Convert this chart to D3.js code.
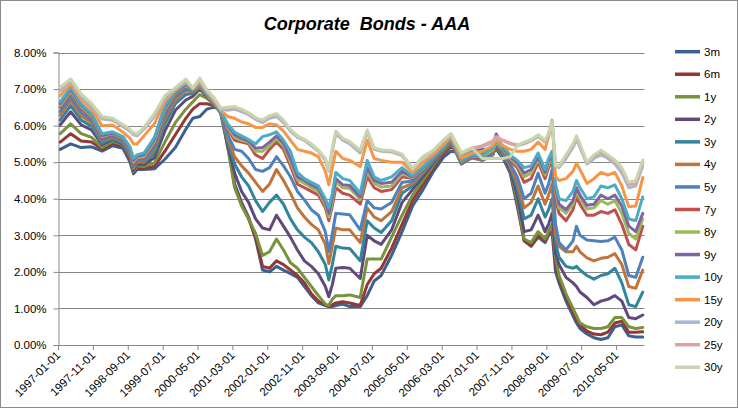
<!DOCTYPE html>
<html><head><meta charset="utf-8">
<script src="https://cdn.jsdelivr.net/npm/d3@7"></script>
<style>
body{margin:0;background:#fff}
svg{display:block}
text{font-family:"Liberation Sans",Arial,sans-serif;fill:#000}
</style>
</head><body>
<svg id="c" width="738" height="408"></svg>
<script>
const sampleDates = [
"1997-01-01","1997-04-01","1997-07-01","1997-10-01","1998-01-01","1998-04-01","1998-07-01","1998-09-01","1998-10-01","1998-11-01",
"1999-01-01","1999-04-01","1999-07-01","1999-10-01","2000-01-01","2000-03-01","2000-05-01","2000-07-01","2000-09-01","2000-11-01",
"2001-01-01","2001-03-01","2001-05-01","2001-07-01","2001-09-01","2001-11-01","2002-01-01","2002-03-01","2002-05-01","2002-07-01",
"2002-09-01","2002-11-01","2003-01-01","2003-03-01","2003-05-01","2003-06-01","2003-07-01","2003-08-01","2003-10-01","2003-12-01",
"2004-03-01","2004-05-01","2004-07-01","2004-09-01","2004-12-01","2005-03-01","2005-06-01","2005-09-01","2005-12-01","2006-03-01",
"2006-05-01","2006-08-01","2006-11-01","2007-02-01","2007-05-01","2007-06-01","2007-08-01","2007-10-01","2007-12-01","2008-02-01",
"2008-04-01","2008-06-01","2008-08-01","2008-09-01","2008-10-01","2008-11-01","2008-12-01","2009-02-01","2009-04-01","2009-05-01",
"2009-06-01","2009-08-01","2009-10-01","2009-12-01","2010-02-01","2010-04-01","2010-06-01","2010-08-01","2010-10-01","2010-12-01"];

const seriesNames = ["3m","6m","1y","2y","3y","4y","5y","7y","8y","9y","10y","15y","20y","25y","30y"];

const s3m = [5.35,5.5,5.4,5.42,5.3,5.45,5.38,5.0,4.68,4.8,
4.8,4.82,5.08,5.4,5.9,6.2,6.25,6.45,6.5,6.45,
5.6,4.4,3.9,3.5,2.9,2.05,2.0,2.15,2.05,1.95,
1.85,1.6,1.35,1.15,1.08,1.05,1.05,1.08,1.12,1.05,
1.05,1.35,1.75,1.9,2.45,3.1,3.8,4.25,4.75,5.15,
5.3,5.25,5.35,5.35,5.3,5.35,5.1,4.7,3.8,2.85,
2.7,2.95,2.8,3.0,3.1,2.0,1.7,1.2,0.8,0.6,
0.45,0.3,0.2,0.15,0.2,0.5,0.55,0.25,0.22,0.22];
const s6m = [5.55,5.78,5.58,5.55,5.35,5.52,5.45,5.1,4.72,4.85,
4.85,4.88,5.3,5.75,6.2,6.45,6.6,6.6,6.55,6.42,
5.5,4.35,3.85,3.45,2.95,2.15,2.1,2.3,2.2,2.05,
1.9,1.7,1.4,1.2,1.1,1.05,1.1,1.15,1.18,1.15,
1.08,1.65,1.95,2.1,2.65,3.3,3.95,4.4,4.85,5.25,
5.42,5.22,5.3,5.3,5.3,5.38,5.15,4.75,3.9,2.85,
2.72,3.0,2.85,3.05,3.2,2.2,1.8,1.3,0.9,0.7,
0.55,0.38,0.3,0.28,0.35,0.6,0.65,0.35,0.35,0.36];
const s1y = [5.78,6.05,5.78,5.68,5.4,5.57,5.48,5.15,4.75,4.9,
4.88,4.98,5.55,6.08,6.45,6.65,6.85,6.75,6.58,6.38,
5.4,4.3,3.8,3.45,3.05,2.45,2.55,2.9,2.6,2.25,
2.1,1.85,1.6,1.35,1.12,1.08,1.25,1.35,1.35,1.37,
1.3,2.35,2.35,2.35,2.95,3.55,4.1,4.5,4.92,5.3,
5.5,5.15,5.25,5.25,5.28,5.4,5.15,4.78,3.95,2.9,
2.8,3.1,2.9,3.1,3.3,2.4,1.9,1.4,1.0,0.8,
0.6,0.5,0.45,0.45,0.5,0.75,0.75,0.5,0.45,0.48];
const s2y = [6.02,6.38,6.02,5.88,5.48,5.62,5.5,5.2,4.78,4.95,
4.93,5.12,5.85,6.42,6.7,6.8,7.0,6.8,6.6,6.35,
5.45,4.7,4.2,3.9,3.45,3.2,3.15,3.55,3.25,2.95,
2.6,2.3,2.15,1.95,1.6,1.32,1.65,2.1,2.12,2.1,
1.82,3.0,2.85,2.75,3.15,3.9,4.25,4.6,4.98,5.32,
5.55,5.0,5.15,5.1,5.2,5.45,5.2,4.8,4.1,3.1,
3.15,3.55,3.1,3.3,3.6,2.5,2.2,1.85,1.7,1.6,
1.45,1.3,1.1,1.2,1.25,1.35,1.2,0.75,0.72,0.82];
const s3y = [6.15,6.55,6.15,5.98,5.52,5.65,5.52,5.22,4.82,5.0,
4.98,5.25,6.05,6.6,6.85,6.88,7.05,6.82,6.6,6.35,
5.55,4.95,4.6,4.35,3.95,3.65,3.9,4.1,3.85,3.45,
3.15,2.95,2.8,2.55,2.2,1.78,2.2,2.7,2.65,2.64,
2.3,3.4,3.2,3.08,3.4,4.15,4.35,4.68,5.02,5.34,
5.57,4.95,5.12,5.05,5.2,5.48,5.22,4.85,4.3,3.45,
3.55,4.0,3.5,3.7,4.0,2.8,2.4,2.15,2.1,2.15,
2.05,1.9,1.8,1.9,1.95,2.1,1.7,1.1,1.05,1.45];
const s4y = [6.28,6.68,6.27,6.07,5.57,5.68,5.55,5.25,4.85,5.02,
5.02,5.35,6.18,6.7,6.95,6.92,7.08,6.83,6.6,6.35,
5.65,5.15,4.9,4.7,4.45,4.2,4.4,4.8,4.5,4.15,
3.75,3.5,3.3,3.15,2.75,2.23,2.7,3.2,3.15,3.15,
2.8,3.75,3.5,3.4,3.65,4.3,4.42,4.72,5.05,5.35,
5.58,4.95,5.12,5.05,5.22,5.5,5.25,4.9,4.45,3.75,
3.9,4.35,3.85,4.1,4.4,3.0,2.7,2.55,2.55,2.7,
2.55,2.38,2.3,2.37,2.4,2.5,2.2,1.6,1.55,2.05];
const s5y = [6.38,6.78,6.37,6.13,5.6,5.7,5.57,5.28,4.88,5.05,
5.06,5.42,6.28,6.78,7.0,6.95,7.1,6.84,6.62,6.36,
5.75,5.35,5.3,5.1,4.8,4.75,4.85,5.15,4.9,4.6,
4.2,3.97,3.7,3.55,3.1,2.55,3.05,3.6,3.58,3.56,
3.15,3.95,3.75,3.72,3.9,4.45,4.48,4.76,5.07,5.36,
5.6,4.97,5.13,5.07,5.25,5.52,5.28,4.95,4.6,4.0,
4.15,4.7,4.15,4.4,4.8,3.3,2.8,2.6,2.85,3.25,
3.0,2.87,2.85,2.83,2.85,2.95,2.6,1.9,1.85,2.4];
const s7y = [6.5,6.9,6.47,6.22,5.67,5.75,5.62,5.33,4.95,5.1,
5.12,5.52,6.4,6.85,7.08,6.98,7.12,6.85,6.63,6.37,
5.9,5.6,5.55,5.5,5.2,5.1,5.35,5.55,5.35,4.9,
4.4,4.3,4.2,4.1,3.75,3.4,3.8,4.3,4.15,4.1,
3.85,4.6,4.3,4.2,4.25,4.6,4.55,4.8,5.1,5.38,
5.62,5.0,5.15,5.12,5.3,5.55,5.32,5.05,4.85,4.45,
4.55,5.0,4.55,4.85,5.0,4.0,3.6,3.4,3.7,4.05,
3.85,3.55,3.55,3.65,3.6,3.7,3.3,2.75,2.6,3.25];
const s8y = [6.55,6.95,6.52,6.26,5.7,5.78,5.65,5.36,5.0,5.13,
5.15,5.56,6.45,6.88,7.1,6.98,7.12,6.86,6.64,6.38,
5.95,5.68,5.6,5.55,5.3,5.3,5.45,5.65,5.45,5.0,
4.52,4.42,4.3,4.2,3.85,3.5,3.9,4.45,4.3,4.28,
3.98,4.75,4.42,4.32,4.35,4.68,4.58,4.82,5.12,5.4,
5.63,5.02,5.17,5.14,5.33,5.56,5.35,5.1,4.92,4.6,
4.7,5.08,4.65,4.95,5.1,4.2,3.75,3.6,3.85,4.2,
4.0,3.72,3.75,3.95,3.85,3.95,3.6,3.05,2.9,3.45];
const s9y = [6.6,7.0,6.56,6.3,5.73,5.8,5.67,5.38,5.05,5.16,
5.2,5.62,6.5,6.9,7.12,7.0,7.14,6.87,6.65,6.39,
6.0,5.75,5.65,5.58,5.38,5.4,5.55,5.72,5.52,5.1,
4.6,4.5,4.38,4.28,3.92,3.6,4.0,4.55,4.38,4.36,
4.05,4.85,4.5,4.42,4.45,4.75,4.6,4.85,5.13,5.42,
5.64,5.04,5.18,5.16,5.45,5.77,5.38,5.15,4.98,4.7,
4.8,5.15,4.72,5.05,5.15,4.3,3.85,3.7,3.95,4.3,
4.1,3.82,3.85,4.1,4.0,4.1,3.8,3.25,3.1,3.6];
const s10y = [6.65,7.05,6.6,6.33,5.78,5.83,5.7,5.42,5.1,5.2,
5.25,5.68,6.55,6.93,7.15,7.0,7.15,6.88,6.66,6.4,
6.05,5.82,5.72,5.62,5.5,5.7,5.75,5.83,5.6,5.3,
4.72,4.55,4.45,4.35,4.0,3.75,4.15,4.72,4.55,4.5,
4.15,5.05,4.6,4.5,4.6,4.85,4.63,4.88,5.15,5.44,
5.66,5.06,5.2,5.18,5.38,5.58,5.42,5.2,5.05,4.85,
4.9,5.25,4.8,5.1,5.3,4.4,4.0,3.95,4.2,4.5,
4.3,4.0,4.05,4.35,4.3,4.38,4.0,3.45,3.4,4.05];
const s15y = [6.82,7.15,6.72,6.45,6.0,6.02,5.82,5.65,5.5,5.5,
5.72,6.05,6.68,6.98,7.2,7.02,7.2,6.92,6.7,6.42,
6.25,6.2,6.1,6.05,5.95,5.95,6.05,6.02,5.85,5.6,
5.35,5.3,5.25,5.15,4.75,4.38,4.85,5.3,5.1,5.05,
4.88,5.6,5.1,5.05,5.0,5.0,4.72,5.0,5.22,5.5,
5.7,5.12,5.25,5.3,5.45,5.62,5.45,5.35,5.3,5.3,
5.35,5.55,5.35,5.7,6.15,4.6,4.5,4.55,4.75,4.97,
4.8,4.42,4.55,4.72,4.65,4.72,4.35,3.78,3.8,4.58];
const s20y = [6.95,7.22,6.8,6.55,6.18,6.15,5.97,5.85,5.75,5.72,
5.9,6.25,6.76,7.0,7.22,7.02,7.25,6.95,6.74,6.45,
6.42,6.45,6.38,6.3,6.17,6.08,6.2,6.25,6.08,5.85,
5.68,5.6,5.45,5.3,5.05,4.75,5.3,5.78,5.6,5.5,
5.25,5.82,5.35,5.3,5.28,5.18,4.8,5.12,5.3,5.58,
5.75,5.22,5.35,5.42,5.55,5.68,5.58,5.5,5.45,5.5,
5.58,5.7,5.55,5.75,6.12,4.9,4.85,5.1,5.4,5.62,
5.4,4.95,5.1,5.2,5.1,4.95,4.7,4.3,4.35,4.9];
const s25y = [7.0,7.26,6.84,6.58,6.22,6.18,6.0,5.88,5.78,5.75,
5.93,6.3,6.79,7.02,7.25,7.03,7.27,6.97,6.76,6.47,
6.46,6.5,6.42,6.33,6.2,6.12,6.25,6.3,6.12,5.88,
5.7,5.62,5.48,5.32,5.08,4.78,5.35,5.82,5.63,5.54,
5.3,5.85,5.38,5.32,5.3,5.2,4.82,5.15,5.32,5.6,
5.78,5.25,5.38,5.45,5.58,5.7,5.6,5.52,5.47,5.52,
5.6,5.72,5.57,5.78,6.1,4.92,4.87,5.15,5.45,5.67,
5.45,4.97,5.15,5.28,5.15,5.02,4.8,4.4,4.4,5.0];
const s30y = [7.05,7.28,6.87,6.6,6.25,6.2,6.03,5.9,5.8,5.77,
5.95,6.33,6.82,7.04,7.27,7.03,7.3,6.98,6.78,6.48,
6.5,6.52,6.45,6.35,6.22,6.15,6.27,6.33,6.15,5.9,
5.72,5.62,5.5,5.33,5.1,4.8,5.38,5.85,5.65,5.56,
5.33,5.88,5.4,5.33,5.32,5.22,4.82,5.15,5.33,5.62,
5.78,5.26,5.4,5.1,5.1,5.1,5.1,5.15,5.45,5.55,
5.62,5.75,5.6,5.8,6.1,4.9,4.9,5.2,5.5,5.72,
5.5,5.0,5.2,5.33,5.2,5.06,4.85,4.45,4.5,5.06];

const seriesValues = [s3m,s6m,s1y,s2y,s3y,s4y,s5y,s7y,s8y,s9y,s10y,s15y,s20y,s25y,s30y];
const seriesColors = ["#3b6192","#943735","#77933c","#5f4a7b","#31859c","#c0743a","#4f81bd","#c0504d","#9bbb59","#8064a2","#4bacc6","#f79646","#a6b9d3","#dba3a2","#c6d6ad"];

const yTicks = [0,1,2,3,4,5,6,7,8];
const tickLabels = ["1997-01-01","1997-11-01","1998-09-01","1999-07-01","2000-05-01","2001-03-01","2002-01-01","2002-11-01","2003-09-01","2004-07-01","2005-05-01","2006-03-01","2007-01-01","2007-11-01","2008-09-01","2009-07-01","2010-05-01"];
const titleText = "Corporate  Bonds - AAA";

const fmt = d3.utcFormat("%Y-%m-%d");
const categories = d3.utcMonth.range(new Date(Date.UTC(1997,0,1)), new Date(Date.UTC(2011,0,1))).map(fmt);

const svg = d3.select("#c");
const W = 738, H = 408;
const L = 58.5, R = 644.5, T = 52.5, B = 345;

svg.append("rect").attr("x",0.5).attr("y",0.5).attr("width",W-1).attr("height",H-1)
  .attr("fill","#fff").attr("stroke","#8c8c8c");

const x = d3.scaleBand().domain(categories).range([L,R]).padding(0);
const y = d3.scaleLinear().domain([0,8]).range([B,T]);
const cx = d => x(d) + x.bandwidth()/2;

// gridlines
svg.append("g").selectAll("line").data(yTicks.filter(v=>v>0)).join("line")
  .attr("x1",L).attr("x2",R).attr("y1",d=>Math.round(y(d))+0.5).attr("y2",d=>Math.round(y(d))+0.5)
  .attr("stroke","#868686").attr("stroke-width",1);

// y axis
const yAxis = svg.append("g").attr("transform",`translate(${L},0)`)
  .call(d3.axisLeft(y).tickValues(yTicks).tickFormat(d=>d.toFixed(2)+"%").tickSize(5).tickPadding(7));
yAxis.selectAll("line,path").attr("stroke","#868686");
yAxis.selectAll("text").style("font-size","11.5px").style("font-family","'Liberation Sans',Arial,sans-serif").attr("fill","#000");

// x axis line
svg.append("line").attr("x1",L).attr("x2",R).attr("y1",B+0.5).attr("y2",B+0.5).attr("stroke","#868686");
// x tick marks at category boundaries every 10
const tickIdx = d3.range(0, categories.length+1, 10);
svg.append("g").selectAll("line").data(tickIdx).join("line")
  .attr("x1",i=> (i<categories.length? x(categories[i]) : R)).attr("x2",i=> (i<categories.length? x(categories[i]) : R))
  .attr("y1",B).attr("y2",B+5).attr("stroke","#868686");
// x labels
svg.append("g").selectAll("text").data(tickLabels).join("text")
  .attr("transform",d=>`translate(${cx(d)-2},${B+8}) rotate(-45)`)
  .attr("text-anchor","end").attr("dy","0.35em")
  .style("font-size","11.5px").text(d=>d);

// lines
const line = d3.line().x(d=>cx(d[0])).y(d=>y(d[1]));
const gLines = svg.append("g");
seriesValues.forEach((vals,k)=>{
  gLines.append("path").datum(sampleDates.map((d,i)=>[d,vals[i]]))
    .attr("d",line).attr("fill","none").attr("stroke",seriesColors[k])
    .attr("stroke-width",3).attr("stroke-linejoin","round").attr("stroke-linecap","round");
});

// legend
const lg = svg.append("g");
seriesNames.forEach((n,k)=>{
  const yy = 51.7 + k*22.54;
  lg.append("line").attr("x1",675).attr("x2",700).attr("y1",yy).attr("y2",yy)
    .attr("stroke",seriesColors[k]).attr("stroke-width",3.5);
  lg.append("text").attr("x",704).attr("y",yy).attr("dy","0.35em").style("font-size","11.5px").text(n);
});

// title
svg.append("text").attr("x",367).attr("y",30).attr("text-anchor","middle")
  .style("font-size","18px").style("font-weight","bold").style("font-style","italic")
  .style("white-space","pre").attr("xml:space","preserve").text(titleText);
</script>
</body></html>
